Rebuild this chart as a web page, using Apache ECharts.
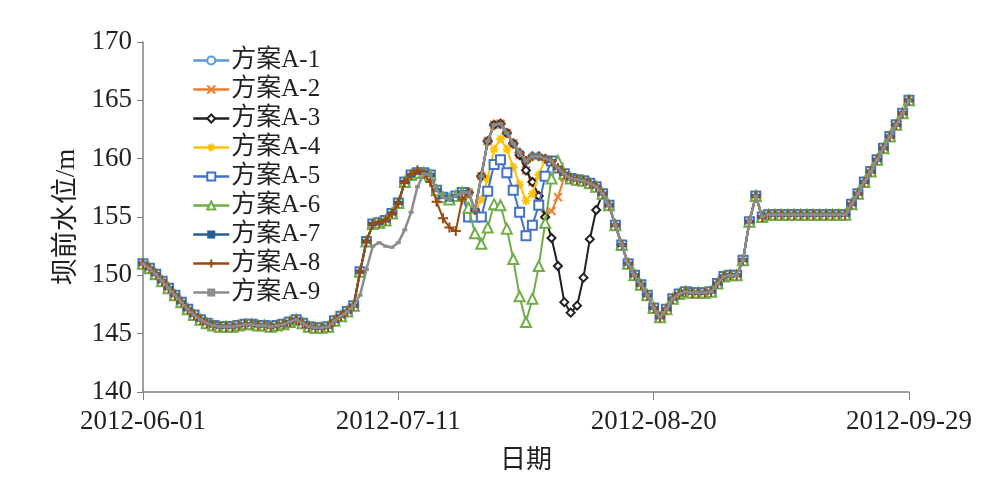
<!DOCTYPE html>
<html><head><meta charset="utf-8">
<script src="https://cdn.jsdelivr.net/npm/echarts@6/dist/echarts.min.js"></script>
<style>html,body{margin:0;padding:0;background:#fff}#c{width:1007px;height:481px}</style>
</head><body><div id="c"></div>
<script>
// categories: daily dates 2012-06-01 .. 2012-09-29
var startDate = '2012-06-01';
var dayCount = 121;
var yTicks = [140, 145, 150, 155, 160, 165, 170];
var seriesNames = ['方案A-1','方案A-2','方案A-3','方案A-4','方案A-5','方案A-6','方案A-7','方案A-8','方案A-9'];

var a1 = [151.0,150.6,150.1,149.5,148.9,148.3,147.7,147.1,146.6,146.2,
145.9,145.7,145.6,145.6,145.6,145.7,145.8,145.8,145.7,145.7,
145.6,145.7,145.8,146.0,146.2,145.9,145.6,145.5,145.5,145.6,
146.1,146.5,146.9,147.4,150.3,152.9,154.4,154.5,154.7,155.3,
156.2,158.0,158.6,158.8,158.8,158.6,157.3,156.7,156.5,156.8,
157.1,157.1,155.6,158.5,161.5,162.9,163.0,162.2,161.3,160.5,
159.8,160.2,160.2,160.0,159.8,159.2,158.7,158.3,158.2,158.1,
157.9,157.6,157.0,156.0,154.3,152.6,151.0,150.0,149.2,148.3,
147.2,146.4,147.1,148.0,148.4,148.6,148.5,148.5,148.5,148.6,
149.3,149.9,150.0,150.0,151.3,154.6,156.8,155.0,155.2,155.2,
155.2,155.2,155.2,155.2,155.2,155.2,155.2,155.2,155.2,155.2,
155.2,156.1,157.0,158.0,158.9,159.9,160.9,161.9,162.9,163.9,165.0];

var a2 = [151.0,150.6,150.1,149.5,148.9,148.3,147.7,147.1,146.6,146.2,
145.9,145.7,145.6,145.6,145.6,145.7,145.8,145.8,145.7,145.7,
145.6,145.7,145.8,146.0,146.2,145.9,145.6,145.5,145.5,145.6,
146.1,146.5,146.9,147.4,150.3,152.9,154.4,154.5,154.7,155.3,
156.2,158.0,158.6,158.8,158.8,158.6,157.3,156.7,156.5,156.8,
157.1,157.1,155.6,158.5,161.5,162.9,163.0,162.2,161.3,160.3,
159.0,158.0,156.8,155.2,155.5,156.7,158.4,158.3,158.2,158.1,
157.9,157.6,157.0,156.0,154.3,152.6,151.0,150.0,149.2,148.3,
147.2,146.4,147.1,148.0,148.4,148.6,148.5,148.5,148.5,148.6,
149.3,149.9,150.0,150.0,151.3,154.6,156.8,155.0,155.2,155.2,
155.2,155.2,155.2,155.2,155.2,155.2,155.2,155.2,155.2,155.2,
155.2,156.1,157.0,158.0,158.9,159.9,160.9,161.9,162.9,163.9,165.0];

var a3 = [151.0,150.6,150.1,149.5,148.9,148.3,147.7,147.1,146.6,146.2,
145.9,145.7,145.6,145.6,145.6,145.7,145.8,145.8,145.7,145.7,
145.6,145.7,145.8,146.0,146.2,145.9,145.6,145.5,145.5,145.6,
146.1,146.5,146.9,147.4,150.3,152.9,154.4,154.5,154.7,155.3,
156.2,158.0,158.6,158.8,158.8,158.6,157.3,156.7,156.5,156.8,
157.1,157.1,155.6,158.5,161.5,162.9,163.0,162.2,161.3,160.3,
159.0,158.0,156.8,155.0,153.2,150.8,147.7,146.8,147.4,149.8,
153.1,155.6,157.0,156.0,154.3,152.6,151.0,150.0,149.2,148.3,
147.2,146.4,147.1,148.0,148.4,148.6,148.5,148.5,148.5,148.6,
149.3,149.9,150.0,150.0,151.3,154.6,156.8,155.0,155.2,155.2,
155.2,155.2,155.2,155.2,155.2,155.2,155.2,155.2,155.2,155.2,
155.2,156.1,157.0,158.0,158.9,159.9,160.9,161.9,162.9,163.9,165.0];

var a4 = [151.0,150.6,150.1,149.5,148.9,148.3,147.7,147.1,146.6,146.2,
145.9,145.7,145.6,145.6,145.6,145.7,145.8,145.8,145.7,145.7,
145.6,145.7,145.8,146.0,146.2,145.9,145.6,145.5,145.5,145.6,
146.1,146.5,146.9,147.4,150.3,152.9,154.4,154.5,154.7,155.3,
156.2,158.0,158.6,158.8,158.8,158.6,157.3,156.7,156.5,156.8,
157.1,157.1,155.6,156.5,158.3,160.8,161.7,160.8,159.3,157.8,
156.4,157.0,158.6,159.9,159.8,159.2,158.7,158.3,158.2,158.1,
157.9,157.6,157.0,156.0,154.3,152.6,151.0,150.0,149.2,148.3,
147.2,146.4,147.1,148.0,148.4,148.6,148.5,148.5,148.5,148.6,
149.3,149.9,150.0,150.0,151.3,154.6,156.8,155.0,155.2,155.2,
155.2,155.2,155.2,155.2,155.2,155.2,155.2,155.2,155.2,155.2,
155.2,156.1,157.0,158.0,158.9,159.9,160.9,161.9,162.9,163.9,165.0];

var a5 = [151.0,150.6,150.1,149.5,148.9,148.3,147.7,147.1,146.6,146.2,
145.9,145.7,145.6,145.6,145.6,145.7,145.8,145.8,145.7,145.7,
145.6,145.7,145.8,146.0,146.2,145.9,145.6,145.5,145.5,145.6,
146.1,146.5,146.9,147.4,150.3,152.9,154.4,154.5,154.7,155.3,
156.2,158.0,158.6,158.8,158.8,158.6,157.3,156.7,156.5,156.8,
157.1,155.0,155.0,155.0,157.2,159.5,159.9,158.8,157.3,155.4,
153.4,154.3,156.0,158.5,159.8,159.2,158.7,158.3,158.2,158.1,
157.9,157.6,157.0,156.0,154.3,152.6,151.0,150.0,149.2,148.3,
147.2,146.4,147.1,148.0,148.4,148.6,148.5,148.5,148.5,148.6,
149.3,149.9,150.0,150.0,151.3,154.6,156.8,155.0,155.2,155.2,
155.2,155.2,155.2,155.2,155.2,155.2,155.2,155.2,155.2,155.2,
155.2,156.1,157.0,158.0,158.9,159.9,160.9,161.9,162.9,163.9,165.0];

var a6 = [151.0,150.6,150.1,149.5,148.9,148.3,147.7,147.1,146.6,146.2,
145.9,145.7,145.6,145.6,145.6,145.7,145.8,145.8,145.7,145.7,
145.6,145.7,145.8,146.0,146.2,145.9,145.6,145.5,145.5,145.6,
146.1,146.5,146.9,147.4,150.3,152.9,154.4,154.5,154.7,155.3,
156.2,158.0,158.6,158.8,158.8,158.6,157.3,156.7,156.5,156.8,
157.1,155.8,153.6,152.7,154.1,156.1,156.0,154.0,151.4,148.2,
146.0,148.0,150.8,154.5,158.3,159.8,158.7,158.3,158.2,158.1,
157.9,157.6,157.0,156.0,154.3,152.6,151.0,150.0,149.2,148.3,
147.2,146.4,147.1,148.0,148.4,148.6,148.5,148.5,148.5,148.6,
149.3,149.9,150.0,150.0,151.3,154.6,156.8,155.0,155.2,155.2,
155.2,155.2,155.2,155.2,155.2,155.2,155.2,155.2,155.2,155.2,
155.2,156.1,157.0,158.0,158.9,159.9,160.9,161.9,162.9,163.9,165.0];

var a7 = [151.0,150.6,150.1,149.5,148.9,148.3,147.7,147.1,146.6,146.2,
145.9,145.7,145.6,145.6,145.6,145.7,145.8,145.8,145.7,145.7,
145.6,145.7,145.8,146.0,146.2,145.9,145.6,145.5,145.5,145.6,
146.1,146.5,146.9,147.4,150.3,152.9,154.4,154.5,154.7,155.3,
156.2,158.0,158.6,158.8,158.8,158.6,157.3,156.7,156.5,156.8,
157.1,157.1,155.6,158.5,161.5,162.9,163.0,162.2,161.3,160.5,
159.8,160.2,160.2,160.0,159.8,159.2,158.7,158.3,158.2,158.1,
157.9,157.6,157.0,156.0,154.3,152.6,151.0,150.0,149.2,148.3,
147.2,146.4,147.1,148.0,148.4,148.6,148.5,148.5,148.5,148.6,
149.3,149.9,150.0,150.0,151.3,154.6,156.8,155.0,155.2,155.2,
155.2,155.2,155.2,155.2,155.2,155.2,155.2,155.2,155.2,155.2,
155.2,156.1,157.0,158.0,158.9,159.9,160.9,161.9,162.9,163.9,165.0];

var a8 = [151.0,150.6,150.1,149.5,148.9,148.3,147.7,147.1,146.6,146.2,
145.9,145.7,145.6,145.6,145.6,145.7,145.8,145.8,145.7,145.7,
145.6,145.7,145.8,146.0,146.2,145.9,145.6,145.5,145.5,145.6,
146.1,146.5,146.9,147.4,150.3,152.9,154.4,154.5,154.7,155.3,
156.2,158.0,158.6,159.0,158.7,158.0,156.3,154.9,154.1,153.8,
156.5,157.1,155.6,158.5,161.5,162.9,163.0,162.2,161.3,160.5,
159.8,160.2,160.2,160.0,159.8,159.2,158.7,158.3,158.2,158.1,
157.9,157.6,157.0,156.0,154.3,152.6,151.0,150.0,149.2,148.3,
147.2,146.4,147.1,148.0,148.4,148.6,148.5,148.5,148.5,148.6,
149.3,149.9,150.0,150.0,151.3,154.6,156.8,155.0,155.2,155.2,
155.2,155.2,155.2,155.2,155.2,155.2,155.2,155.2,155.2,155.2,
155.2,156.1,157.0,158.0,158.9,159.9,160.9,161.9,162.9,163.9,165.0];

var a9 = [151.0,150.6,150.1,149.5,148.9,148.3,147.7,147.1,146.6,146.2,
145.9,145.7,145.6,145.6,145.6,145.7,145.8,145.8,145.7,145.7,
145.6,145.7,145.8,146.0,146.2,145.9,145.6,145.5,145.5,145.6,
146.1,146.5,146.9,147.4,148.3,150.5,152.5,152.8,152.5,152.4,
152.8,153.9,155.4,157.6,158.7,158.6,157.3,156.7,156.5,156.8,
157.1,157.1,155.6,158.5,161.5,162.9,163.0,162.2,161.3,160.5,
159.8,160.2,160.2,160.0,159.8,159.2,158.7,158.3,158.2,158.1,
157.9,157.6,157.0,156.0,154.3,152.6,151.0,150.0,149.2,148.3,
147.2,146.4,147.1,148.0,148.4,148.6,148.5,148.5,148.5,148.6,
149.3,149.9,150.0,150.0,151.3,154.6,156.8,155.0,155.2,155.2,
155.2,155.2,155.2,155.2,155.2,155.2,155.2,155.2,155.2,155.2,
155.2,156.1,157.0,158.0,158.9,159.9,160.9,161.9,162.9,163.9,165.0];

var dates = [];
(function(){
  var d = new Date(startDate + 'T00:00:00Z');
  for (var i = 0; i < dayCount; i++) {
    var t = new Date(d.getTime() + i * 86400000);
    var m = t.getUTCMonth() + 1, dd = t.getUTCDate();
    dates.push(t.getUTCFullYear() + '-' + (m < 10 ? '0' : '') + m + '-' + (dd < 10 ? '0' : '') + dd);
  }
})();

var FONT = '"Liberation Serif","Noto Sans CJK SC",serif';
var TXT = '#231f20';
var styles = [
  {c:'#5B9BD5', sym:'emptyCircle', size:7, bw:1.5},
  {c:'#ED7D31', sym:'path://M0,0L10,10M10,0L0,10', size:8, bw:2},
  {c:'#231F20', sym:'emptyDiamond', size:8, bw:1.5},
  {c:'#FFC000', sym:'path://M5,0L5,10M0,5L10,5M1.5,1.5L8.5,8.5M8.5,1.5L1.5,8.5', size:9, bw:1.8},
  {c:'#4472C4', sym:'emptyRect', size:9, bw:1.5},
  {c:'#70AD47', sym:'emptyTriangle', size:10, bw:1.5},
  {c:'#255E91', sym:'rect', size:[9,4], bw:0},
  {c:'#9E480E', sym:'path://M5,0L5,10M0,5L10,5', size:10, bw:2},
  {c:'#8C8C8C', sym:'rect', size:[5,3], bw:0}
];
var dataArr = [a1,a2,a3,a4,a5,a6,a7,a8,a9];

var series = dataArr.map(function(arr, i){
  var s = styles[i];
  var isPath = s.sym.indexOf('path://') === 0;
  return {
    name: seriesNames[i], type:'line', data: arr,
    symbol: s.sym, symbolSize: s.size, showAllSymbol: true,
    lineStyle: {color: s.c, width: i === 8 ? 2.5 : 2},
    itemStyle: (isPath || s.sym.indexOf('empty') === 0)
      ? {color: s.c, borderColor: s.c, borderWidth: s.bw} : {color: s.c},
    emphasis: {disabled: true},
    z: 2 + i
  };
});

var legendData = seriesNames.map(function(n, i){
  var s = styles[i];
  return {name: n, itemStyle: {color: s.c, borderColor: s.c, borderWidth: s.bw > 0 ? s.bw : 0},
          lineStyle: {color: s.c, width: 2.5}};
});

var chart = echarts.init(document.getElementById('c'), null, {renderer:'canvas'});
chart.setOption({
  animation: false,
  backgroundColor: '#fff',
  grid: {left: 143, right: 98, top: 42, bottom: 89, containLabel: false},
  legend: {
    orient: 'vertical', left: 187, top: 43,
    itemWidth: 36, itemHeight: 10, itemGap: 4,
    textStyle: {fontFamily: FONT, fontSize: 25, color: TXT, lineHeight: 25, padding: [0,0,0,-3]},
    data: legendData
  },
  xAxis: {
    type: 'category', data: dates, boundaryGap: false,
    name: '日期', nameLocation: 'middle', nameGap: 56,
    nameTextStyle: {fontFamily: FONT, fontSize: 26, color: TXT},
    axisLine: {lineStyle: {color: '#7f7f7f', width: 1.5}},
    axisTick: {show: true, interval: 39, length: 8, lineStyle: {color: '#7f7f7f'}},
    axisLabel: {interval: 39, fontFamily: FONT, fontSize: 27, color: TXT, margin: 16},
    splitLine: {show: false}
  },
  yAxis: {
    type: 'value', min: yTicks[0], max: yTicks[yTicks.length-1], interval: 5,
    name: '坝前水位/m', nameLocation: 'middle', nameGap: 63, nameRotate: 90,
    nameTextStyle: {fontFamily: FONT, fontSize: 27, color: TXT},
    axisLine: {show: true, lineStyle: {color: '#7f7f7f', width: 1.5}},
    axisTick: {show: true, length: 6, lineStyle: {color: '#7f7f7f'}},
    axisLabel: {fontFamily: FONT, fontSize: 27, color: TXT, margin: 11},
    splitLine: {show: false}
  },
  series: series
});
</script>
</body></html>
